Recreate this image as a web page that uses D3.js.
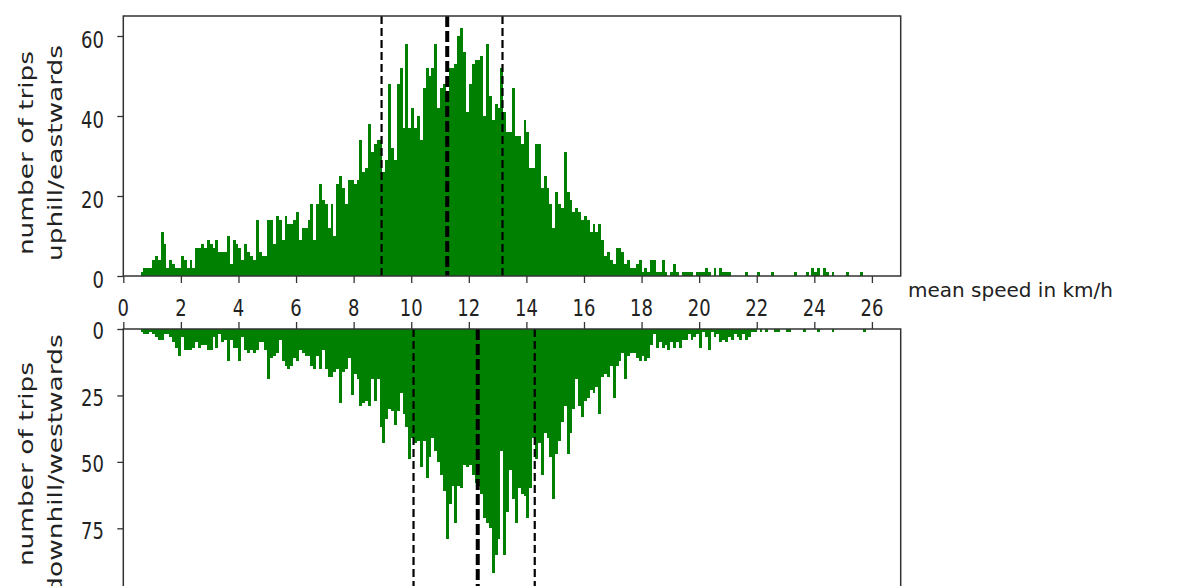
<!DOCTYPE html>
<html>
<head>
<meta charset="utf-8">
<script src="https://cdn.jsdelivr.net/npm/d3@7/dist/d3.min.js"></script>
<style>
  html, body { margin: 0; padding: 0; background: #fff; }
  svg { display: block; }
  text { font-family: "DejaVu Sans", sans-serif; fill: #222; }
</style>
</head>
<body>
<svg id="chart" width="1189" height="586"></svg>
<script>
// ---- data (histogram counts per 0.1 km/h bin, 0.0 .. 26.9) ----
const binWidth = 0.1;
const uphillCounts = [
  0,0,0,0,0,0,1,2,2,2, 4,5,4,11,8,2,4,3,2,2,
  5,4,2,4,2,7,7,8,7,9, 8,7,9,6,6,6,10,3,9,8,
  7,4,8,6,5,4,14,6,5,5, 14,14,8,15,14,9,15,13,13,14,
  16,9,12,12,14,18,9,18,23,19, 18,12,18,10,23,25,22,18,24,24,
  23,24,34,26,27,38,31,33,34,34, 26,29,48,32,29,48,52,37,58,37,
  42,37,40,34,47,52,50,52,58,42, 47,48,44,52,52,53,60,62,56,41,
  48,53,54,54,55,40,58,45,39,43, 42,52,41,36,36,47,35,35,33,39,
  36,27,27,33,33,22,25,22,18,12, 21,18,17,31,21,19,16,17,16,14,
  15,14,11,13,11,13,9,5,6,4, 3,7,7,6,3,4,2,2,3,4,
  1,2,1,4,4,1,1,4,1,0, 1,3,1,0,1,1,1,1,0,1,
  1,1,2,1,0,2,0,2,1,1, 1,0,0,0,0,0,1,0,0,0,
  1,0,0,0,0,1,0,0,0,0, 0,0,0,1,0,0,0,1,0,2,
  1,2,0,2,1,0,1,0,0,0, 0,1,0,0,0,0,1,0,0,0,
  0,0,0,0,0,0,0,0,0,0
];
const downhillCounts = [
  0,0,0,0,0,0,1,2,2,1, 2,3,4,4,2,2,3,5,7,10,
  3,8,8,8,7,5,7,6,6,8, 8,3,7,2,5,4,12,4,7,7,
  12,3,8,9,8,9,8,5,5,8, 19,11,10,9,4,12,14,15,14,11,
  12,8,9,10,10,14,15,10,15,8, 15,18,18,16,15,28,16,15,11,25,
  17,19,29,28,27,29,19,27,19,37, 43,34,30,31,36,31,24,32,37,49,
  41,43,42,52,42,56,48,41,46,50, 55,61,79,66,59,73,59,60,51,52,
  51,55,58,59,62,71,73,75,92,85, 79,46,85,69,53,64,73,60,62,63,
  71,60,41,49,43,55,39,41,48,64, 47,42,35,29,47,39,30,19,29,33,
  27,26,23,24,22,32,18,17,18,14, 26,14,12,9,19,10,9,9,11,12,
  10,12,11,6,2,7,5,7,6,8, 5,7,5,7,4,4,2,4,3,2,
  7,1,3,8,1,3,2,5,4,5, 3,4,2,3,4,2,4,3,1,1,
  0,1,0,1,0,0,1,1,0,0, 1,1,0,0,0,0,1,0,0,0,
  0,1,0,0,0,0,1,0,0,0, 0,0,0,0,0,0,0,1,0,0
];
const uphillMarkers = [8.97, 11.25, 13.17];     // quartile / median lines
const downhillMarkers = [10.08, 12.31, 14.29];
const xTicks = [0,2,4,6,8,10,12,14,16,18,20,22,24,26];
const uphillTicks = [0,20,40,60];
const downhillTicks = [0,25,50,75];
const xLabel = "mean speed in km/h";
const uphillLabel = ["number of trips", "uphill/eastwards"];
const downhillLabel = ["number of trips", "downhill/westwards"];

// ---- layout ----
const svg = d3.select("#chart");
const left = 123.3, right = 900.7;
const topPanel = {y0: 16, y1: 276};
const botPanel = {y0: 329, y1: 599};
const barColor = "#008000";
const textScaleY = 1.32;

const x = d3.scaleLinear().domain([0, 27]).range([left, right]);
const yTop = d3.scaleLinear().domain([0, 65]).range([topPanel.y1, topPanel.y0]);
const yBot = d3.scaleLinear().domain([0, 101.6]).range([botPanel.y0, botPanel.y1]);

const bins = uphillCounts.map((_, i) => i * binWidth);
const bx0 = i => Math.round(x(bins[i]));
const bx1 = i => Math.round(x(bins[i] + binWidth));

// top histogram
svg.append("g").attr("shape-rendering", "crispEdges")
  .selectAll("rect").data(uphillCounts).join("rect")
  .attr("x", (d, i) => bx0(i))
  .attr("width", (d, i) => bx1(i) - bx0(i))
  .attr("y", d => yTop(d))
  .attr("height", d => yTop(0) - yTop(d))
  .attr("fill", barColor);

// bottom histogram (inverted)
svg.append("g").attr("shape-rendering", "crispEdges")
  .selectAll("rect").data(downhillCounts).join("rect")
  .attr("x", (d, i) => bx0(i))
  .attr("width", (d, i) => bx1(i) - bx0(i))
  .attr("y", yBot(0))
  .attr("height", d => yBot(d) - yBot(0))
  .attr("fill", barColor);

// dashed marker lines
function markers(vals, y0, y1) {
  const g = svg.append("g");
  vals.forEach((v, i) => {
    const thick = i === 1;
    g.append("line")
      .attr("x1", x(v)).attr("x2", x(v))
      .attr("y1", y0).attr("y2", y1)
      .attr("stroke", "#000")
      .attr("stroke-width", thick ? 4 : 2.2)
      .attr("stroke-dasharray", thick ? "11,4" : "8,4");
  });
}
markers(uphillMarkers, topPanel.y0, topPanel.y1);
markers(downhillMarkers, botPanel.y0, botPanel.y1);

// frames
const frameColor = "#333";
svg.append("rect")
  .attr("x", left).attr("y", topPanel.y0)
  .attr("width", right - left).attr("height", topPanel.y1 - topPanel.y0)
  .attr("fill", "none").attr("stroke", frameColor).attr("stroke-width", 1.5);
svg.append("rect")
  .attr("x", left).attr("y", botPanel.y0)
  .attr("width", right - left).attr("height", botPanel.y1 - botPanel.y0)
  .attr("fill", "none").attr("stroke", frameColor).attr("stroke-width", 1.5);

// axes via d3 (ticks), labels drawn manually for vertical stretch
const axTop = svg.append("g").attr("transform", `translate(0,${topPanel.y1})`)
  .call(d3.axisBottom(x).tickValues(xTicks).tickSize(7).tickFormat(""));
const axBot = svg.append("g").attr("transform", `translate(0,${botPanel.y0})`)
  .call(d3.axisTop(x).tickValues(xTicks).tickSize(7).tickFormat(""));
const ayTop = svg.append("g").attr("transform", `translate(${left},0)`)
  .call(d3.axisLeft(yTop).tickValues(uphillTicks).tickSize(6).tickFormat(""));
const ayBot = svg.append("g").attr("transform", `translate(${left},0)`)
  .call(d3.axisLeft(yBot).tickValues(downhillTicks).tickSize(6).tickFormat(""));
[axTop, axBot, ayTop, ayBot].forEach(a => {
  a.select(".domain").remove();
  a.selectAll(".tick line").attr("stroke", frameColor).attr("stroke-width", 1.3);
});

// x tick labels (between panels)
svg.append("g").selectAll("text").data(xTicks).join("text")
  .attr("transform", d => `translate(${x(d)},316) scale(1,${textScaleY})`)
  .attr("text-anchor", "middle")
  .attr("font-size", 18)
  .text(d => d);

// y tick labels
svg.append("g").selectAll("text").data(uphillTicks).join("text")
  .attr("transform", d => `translate(104,${yTop(d) + 3 + 8.7}) scale(1,${textScaleY})`)
  .attr("text-anchor", "end")
  .attr("font-size", 18)
  .text(d => d);
svg.append("g").selectAll("text").data(downhillTicks).join("text")
  .attr("transform", d => `translate(104,${yBot(d) + 1.5 + 8.7}) scale(1,${textScaleY})`)
  .attr("text-anchor", "end")
  .attr("font-size", 18)
  .text(d => d);

// x label
svg.append("text")
  .attr("x", 908).attr("y", 297)
  .attr("font-size", 20)
  .text(xLabel);

// y labels (two lines, rotated, stretched along length)
function yLabel(lines, cy) {
  lines.forEach((t, i) => {
    svg.append("text")
      .attr("transform", `translate(${33 + i * 29},${cy}) rotate(-90) scale(${textScaleY},1)`)
      .attr("text-anchor", "middle")
      .attr("font-size", 20)
      .text(t);
  });
}
yLabel(uphillLabel, 153);
yLabel(downhillLabel, 464);
</script>
</body>
</html>
